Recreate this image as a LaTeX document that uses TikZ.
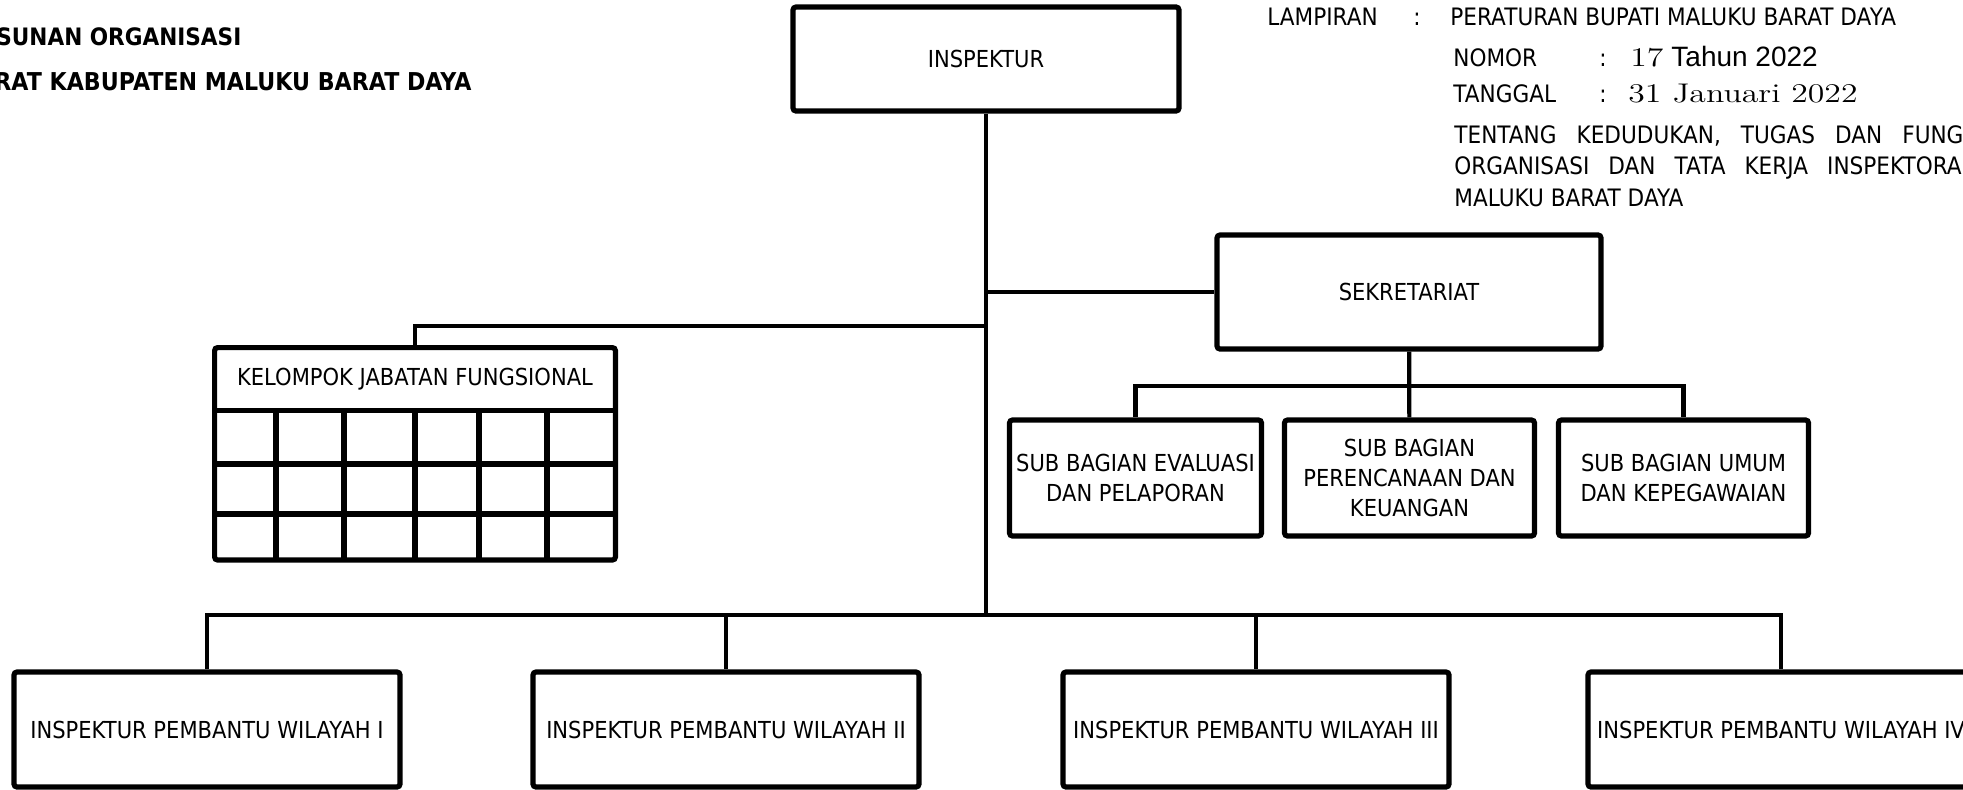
\documentclass[tikz,border=0pt]{standalone}
\usepackage{fontspec}
\usepackage{graphicx}
\setsansfont{DejaVu Sans}[FakeStretch=0.9]
\newfontfamily\arialfont{Liberation Sans}
\usetikzlibrary{calc}

\newcommand\angka[1]{\scalebox{1.25}[1]{\rmfamily\fontsize{13.5}{16}\selectfont #1}}

\tikzset{
  kotak/.style={draw, line width=2.6pt, rounded corners=1.5pt, align=center,
    font=\sffamily\fontsize{11.7}{14.8}\selectfont},
  link/.style={line width=2.1pt},
  teks/.style={inner sep=0pt, font=\sffamily\fontsize{12}{14}\selectfont},
  kop/.style={inner sep=0pt, font=\sffamily\bfseries\fontsize{12}{14}\selectfont}}

\begin{document}
\begin{tikzpicture}[x=0.5pt, y=-0.5pt]
      \useasboundingbox (0,0) rectangle (1963,789);

      % judul kiri
      \node [kop, anchor=base west] (H1) at (-4,45) {SUNAN ORGANISASI};
      \node [kop, anchor=base west, font=\sffamily\bfseries\fontsize{12.3}{14}\selectfont] (H2) at (-6,90) {RAT KABUPATEN MALUKU BARAT DAYA};

      % lampiran kanan
      \node [teks, anchor=base west] (L0) at (1267,25) {LAMPIRAN};
      \node [teks, anchor=base] (L1) at (1417,25) {:};
      \node [teks, anchor=base west] (L2) at (1450,25) {PERATURAN BUPATI MALUKU BARAT DAYA};
      \node [teks, anchor=base west] (N0) at (1453,66) {NOMOR};
      \node [teks, anchor=base] (N1) at (1603,66) {:};
      \node [inner sep=0pt, anchor=base west] (N2) at (1630,66) {\angka{17}};
      \node [inner sep=0pt, anchor=base west] (N3) at (1671,66) {\arialfont\fontsize{14}{16}\selectfont Tahun 2022};
      \node [teks, anchor=base west] (T0) at (1453,102) {TANGGAL};
      \node [teks, anchor=base] (T1) at (1603,102) {:};
      \node [inner sep=0pt, anchor=base west] (T2) at (1628,102) {\angka{31 Januari 2022}};
      \node [teks, anchor=base west] (TT1) at (1454,143) {\spaceskip=10pt TENTANG KEDUDUKAN, TUGAS DAN FUNG};
      \node [teks, anchor=base west] (TT2) at (1454,174) {\spaceskip=9.5pt ORGANISASI DAN TATA KERJA INSPEKTORA};
      \node [teks, anchor=base west] (TT3) at (1454,206) {MALUKU BARAT DAYA};

      % bagan
      \node [kotak, minimum width=193pt, minimum height=52pt] (I0) at (986,59) {INSPEKTUR};
      \node [kotak, minimum width=192pt, minimum height=57pt] (S1) at (1409,292) {SEKRETARIAT};
      \node [align=center, minimum width=200pt, minimum height=31pt,
        font=\sffamily\fontsize{11.7}{14.8}\selectfont] (K1) at (415,379) {KELOMPOK JABATAN FUNGSIONAL};

      \node [kotak, minimum width=125pt, minimum height=58pt] (SB1) at (1135.5,478) {SUB BAGIAN EVALUASI\\DAN PELAPORAN};
      \node [kotak, minimum width=125pt, minimum height=58pt] (SB2) at (1409.5,478) {SUB BAGIAN\\PERENCANAAN DAN\\KEUANGAN};
      \node [kotak, minimum width=125pt, minimum height=58pt] (SB3) at (1683.5,478) {SUB BAGIAN UMUM\\DAN KEPEGAWAIAN};

      \node [kotak, minimum width=193pt, minimum height=57.5pt] (IP1) at (207,729.5) {INSPEKTUR PEMBANTU WILAYAH I};
      \node [kotak, minimum width=193pt, minimum height=57.5pt] (IP2) at (726,729.5) {INSPEKTUR PEMBANTU WILAYAH II};
      \node [kotak, minimum width=193pt, minimum height=57.5pt] (IP3) at (1256,729.5) {INSPEKTUR PEMBANTU WILAYAH III};
      \node [kotak, minimum width=193pt, minimum height=57.5pt] (IP4) at (1781,729.5) {INSPEKTUR PEMBANTU WILAYAH IV};

      % tabel fungsional
      \draw [line width=2.6pt, rounded corners=1.5pt] (K1.north west) rectangle (K1.south east |- 0,560);
      \draw [line width=2.6pt] (K1.south west) -- (K1.south east)
        (215,464) -- (615,464) (215,514) -- (615,514)
        (276,410) -- (276,560) (344,410) -- (344,560) (415,410) -- (415,560)
        (479,410) -- (479,560) (547,410) -- (547,560);

      \coordinate (B0) at (986,615);
      \coordinate (B1) at (1409,386);
      \coordinate (K0) at (986,326);

      \draw [link] (I0)      -- (B0);
      \draw [link] (I0 |- S1) -- (S1);
      \draw [link] (K0)      -| (K1);
      \draw [link] (S1)      -- (SB2);
      \draw [link] (SB1)     |- (B1) -| (SB3);
      \draw [link] (IP1)     |- (B0) -| (IP4);
      \draw [link] (B0 -| IP2) -- (IP2);
      \draw [link] (B0 -| IP3) -- (IP3);
  \end{tikzpicture}
\end{document}
